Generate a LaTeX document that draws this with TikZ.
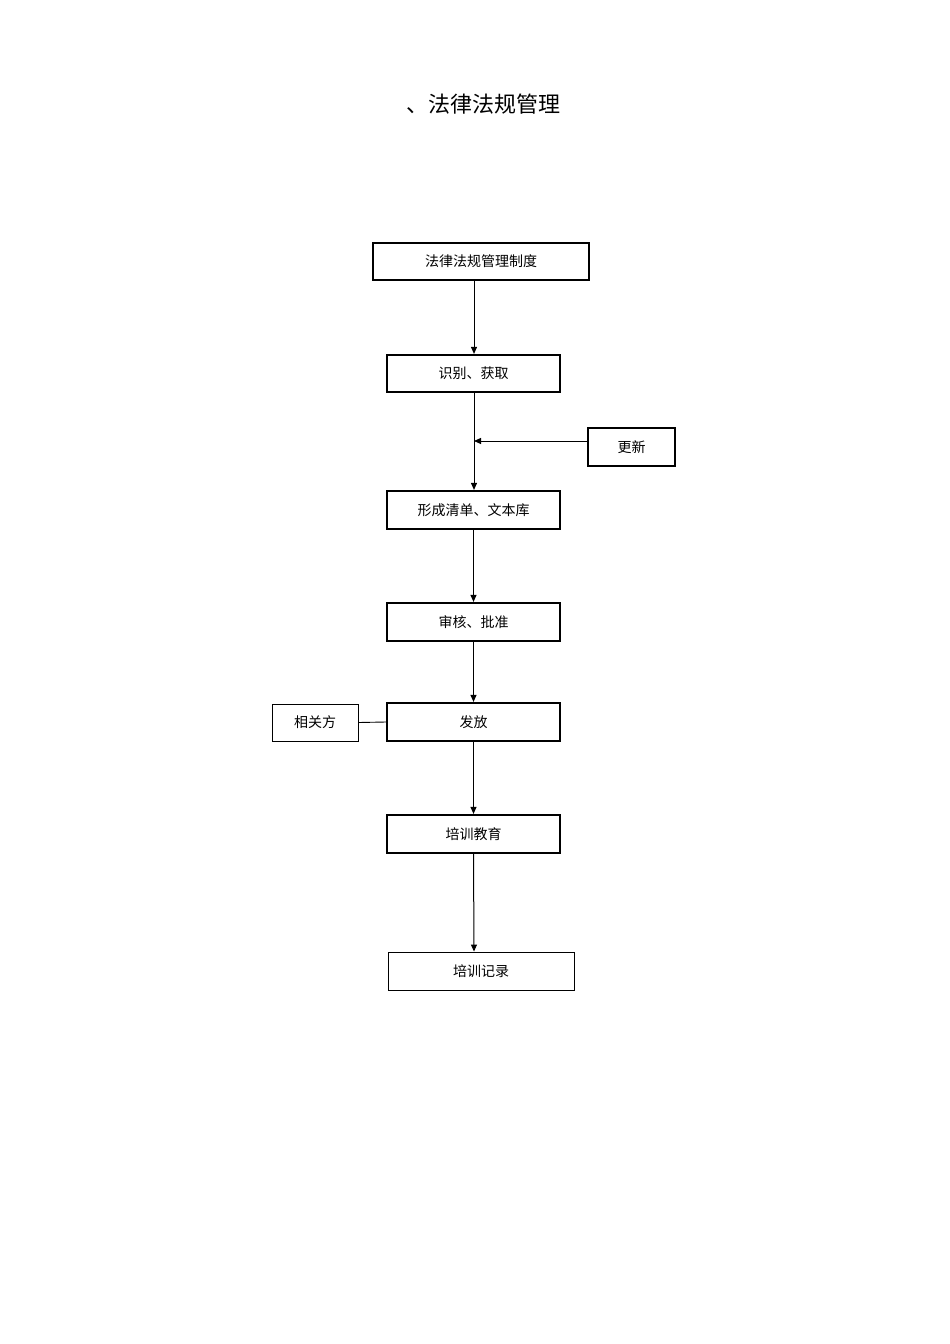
\documentclass[tikz,border=0pt]{standalone}
\usepackage{fontspec}
\setmainfont{Noto Sans CJK SC}
\usetikzlibrary{arrows.meta}
\begin{document}
\begin{tikzpicture}[x=1pt,y=-1pt,
  thickbox/.style={draw,line width=2.2pt,inner sep=0pt,font=\fontsize{14}{14}\selectfont},
  thinbox/.style={draw,line width=0.9pt,inner sep=0pt,font=\fontsize{14}{14}\selectfont},
  arr/.style={-{Triangle[length=7pt,width=6pt]},line width=1pt}]
\useasboundingbox (0,0) rectangle (950,1344);
\node[font=\fontsize{22}{22}\selectfont] (title) at (483,104) {、法律法规管理};
\node[thickbox,minimum width=216,minimum height=37] (a) at (481,261.5) {法律法规管理制度};
\node[thickbox,minimum width=173,minimum height=37] (b) at (473.5,373.5) {识别、获取};
\node[thickbox,line width=1.8pt,minimum width=87,minimum height=38] (u) at (631.5,447) {更新};
\node[thickbox,minimum width=173,minimum height=38] (c) at (473.5,510) {形成清单、文本库};
\node[thickbox,minimum width=173,minimum height=38] (d) at (473.5,622) {审核、批准};
\node[thickbox,minimum width=173,minimum height=38] (e) at (473.5,722) {发放};
\node[thinbox,minimum width=86,minimum height=37] (r) at (315,722.5) {相关方};
\node[thickbox,minimum width=173,minimum height=38] (f) at (473.5,834) {培训教育};
\node[thinbox,minimum width=186,minimum height=38] (g) at (481,971) {培训记录};
\coordinate (j) at (474,441);
\coordinate (ra) at (474,0);
\draw[arr] (474,0 |- a.south) -- (474,0 |- b.north);
\draw[arr] (474,0 |- b.south) -- (474,0 |- c.north);
\draw[arr] (u.west |- j) -- (j);
\draw[arr] (c.south) -- (d.north);
\draw[arr] (d.south) -- (e.north);
\draw[line width=0.9pt] (r.east) -- (e.west);
\draw[arr] (e.south) -- (f.north);
\draw[arr] (f.south) -- (474,0 |- g.north);
\end{tikzpicture}
\end{document}
